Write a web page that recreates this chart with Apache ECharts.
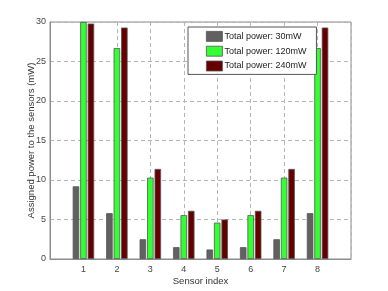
<!DOCTYPE html>
<html>
<head>
<meta charset="utf-8">
<script src="https://cdn.jsdelivr.net/npm/echarts@6/dist/echarts.min.js"></script>
<style>html,body{margin:0;padding:0;background:#fff}#c{width:388px;height:291px}</style>
</head>
<body>
<div id="c"></div>
<script>
var sensors = [1, 2, 3, 4, 5, 6, 7, 8];
var seriesNames = ['Total power: 30mW', 'Total power: 120mW', 'Total power: 240mW'];
var power30 = [9.2, 5.8, 2.5, 1.5, 1.2, 1.5, 2.5, 5.8];
var power120 = [30.0, 26.7, 10.3, 5.55, 4.6, 5.55, 10.3, 26.7];
var power240 = [29.8, 29.3, 11.4, 6.1, 5.0, 6.1, 11.4, 29.3];
var yTicks = [0, 5, 10, 15, 20, 25, 30];

var colors = ['#616161', '#33ff33', '#660000'];
var values = [power30, power120, power240];
var font = 'Liberation Sans';

function pairs(v) { return sensors.map(function (s, i) { return [s, v[i]]; }); }

var chart = echarts.init(document.getElementById('c'), null, {renderer: 'canvas'});
chart.setOption({
  animation: false,
  backgroundColor: '#fff',
  grid: {left: 50, right: 37, top: 22, bottom: 32, show: true, borderColor: '#8c8c8c', borderWidth: 1, containLabel: false},
  legend: {
    orient: 'vertical', left: 188, top: 27,
    padding: [4, 10, 3, 18],
    itemWidth: 16, itemHeight: 10, itemGap: 4,
    backgroundColor: '#fff', borderColor: '#555', borderWidth: 1, borderRadius: 0,
    textStyle: {fontFamily: font, fontSize: 9, color: '#222', padding: [0, 0, 0, -3]},
    itemStyle: {borderColor: '#555', borderWidth: 0.8},
    data: seriesNames.map(function (n) { return {name: n, icon: 'rect'}; })
  },
  xAxis: {
    type: 'value', min: 0, max: 9, interval: 1,
    name: 'Sensor index', nameLocation: 'middle', nameGap: 17, nameMoveOverlap: false,
    nameTextStyle: {fontFamily: font, fontSize: 9.5, color: '#333'},
    axisLine: {show: true, lineStyle: {color: '#8c8c8c'}},
    axisTick: {show: false},
    axisLabel: {fontFamily: font, fontSize: 9, color: '#444', margin: 6,
      formatter: function (v) { return sensors.indexOf(v) >= 0 ? String(v) : ''; }},
    splitLine: {show: true, lineStyle: {color: '#b5b5b5', type: [4, 3], width: 1}}
  },
  yAxis: {
    type: 'value', min: yTicks[0], max: yTicks[yTicks.length - 1], interval: 5,
    name: 'Assigned power to the sensors (mW)', nameLocation: 'middle', nameGap: 14, nameMoveOverlap: false,
    nameTextStyle: {fontFamily: font, fontSize: 9.5, color: '#333'},
    axisLine: {show: true, lineStyle: {color: '#8c8c8c'}},
    axisTick: {show: false},
    axisLabel: {fontFamily: font, fontSize: 9, color: '#444', margin: 4},
    splitLine: {show: true, lineStyle: {color: '#b5b5b5', type: [4, 3], width: 1}}
  },
  series: seriesNames.map(function (n, k) {
    return {
      name: n, type: 'bar', data: pairs(values[k]),
      barWidth: 6.5, barGap: '15%',
      itemStyle: {color: colors[k], borderColor: '#555', borderWidth: 0.8},
      emphasis: {disabled: true}
    };
  })
});
</script>
</body>
</html>
